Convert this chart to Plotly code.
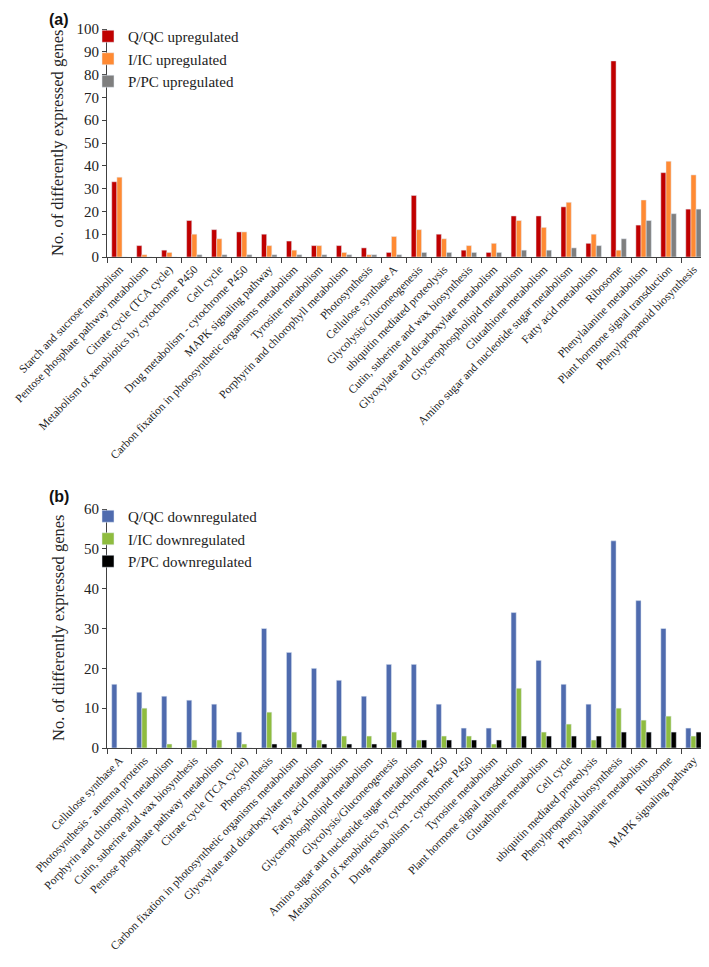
import plotly.graph_objects as go

# ---- Panel (a) data ----
cats_a = [
    "Starch and sucrose metabolism",
    "Pentose phosphate pathway metabolism",
    "Citrate cycle (TCA cycle)",
    "Metabolism of xenobiotics by cytochrome P450",
    "Cell cycle",
    "Drug metabolism - cytochrome P450",
    "MAPK signaling pathway",
    "Carbon fixation in photosynthetic organisms metabolism",
    "Tyrosine metabolism",
    "Porphyrin and chlorophyll metabolism",
    "Photosynthesis",
    "Cellulose synthase A",
    "Glycolysis/Gluconeogenesis",
    "ubiquitin mediated proteolysis",
    "Cutin, suberine and wax biosynthesis",
    "Glyoxylate and dicarboxylate metabolism",
    "Glycerophospholipid metabolism",
    "Glutathione metabolism",
    "Amino sugar and nucleotide sugar metabolism",
    "Fatty acid metabolism",
    "Ribosome",
    "Phenylalanine metabolism",
    "Plant hormone signal transduction",
    "Phenylpropanoid biosynthesis",
]
q_up = [33, 5, 3, 16, 12, 11, 10, 7, 5, 5, 4, 2, 27, 10, 3, 2, 18, 18, 22, 6, 86, 14, 37, 21]
i_up = [35, 1, 2, 10, 8, 11, 5, 3, 5, 2, 1, 9, 12, 8, 5, 6, 16, 13, 24, 10, 3, 25, 42, 36]
p_up = [0, 0, 0, 1, 1, 1, 1, 1, 1, 1, 1, 1, 2, 2, 2, 2, 3, 3, 4, 5, 8, 16, 19, 21]

# ---- Panel (b) data ----
cats_b = [
    "Cellulose synthase A",
    "Photosynthesis - antenna proteins",
    "Porphyrin and chlorophyll metabolism",
    "Cutin, suberine and wax biosynthesis",
    "Pentose phosphate pathway metabolism",
    "Citrate cycle (TCA cycle)",
    "Photosynthesis",
    "Carbon fixation in photosynthetic organisms metabolism",
    "Glyoxylate and dicarboxylate metabolism",
    "Fatty acid metabolism",
    "Glycerophospholipid metabolism",
    "Glycolysis/Gluconeogenesis",
    "Amino sugar and nucleotide sugar metabolism",
    "Metabolism of xenobiotics by cytochrome P450",
    "Drug metabolism - cytochrome P450",
    "Tyrosine metabolism",
    "Plant hormone signal transduction",
    "Glutathione metabolism",
    "Cell cycle",
    "ubiquitin mediated proteolysis",
    "Phenylpropanoid biosynthesis",
    "Phenylalanine metabolism",
    "Ribosome",
    "MAPK signaling pathway",
]
q_down = [16, 14, 13, 12, 11, 4, 30, 24, 20, 17, 13, 21, 21, 11, 5, 5, 34, 22, 16, 11, 52, 37, 30, 5]
i_down = [0, 10, 1, 2, 2, 1, 9, 4, 2, 3, 3, 4, 2, 3, 3, 1, 15, 4, 6, 2, 10, 7, 8, 3]
p_down = [0, 0, 0, 0, 0, 0, 1, 1, 1, 1, 1, 2, 2, 2, 2, 2, 3, 3, 3, 3, 4, 4, 4, 4]

# page body has an 8px margin; the figure is drawn from (8, 8)
OFF = 8
W, H = 709 - OFF, 967 - OFF
FONT = "Liberation Serif"


def px(x):
    return (x - OFF) / W


def py(y):
    return 1 - (y - OFF) / H


fig = go.Figure()

fig.add_trace(go.Bar(x=cats_a, y=q_up, name="Q/QC upregulated", marker_color="#C00000",
                     xaxis="x", yaxis="y", legend="legend"))
fig.add_trace(go.Bar(x=cats_a, y=i_up, name="I/IC upregulated", marker_color="#FF8A33",
                     xaxis="x", yaxis="y", legend="legend"))
fig.add_trace(go.Bar(x=cats_a, y=p_up, name="P/PC upregulated", marker_color="#7F7F7F",
                     xaxis="x", yaxis="y", legend="legend"))

fig.add_trace(go.Bar(x=cats_b, y=q_down, name="Q/QC downregulated", marker_color="#4F6BAE",
                     xaxis="x2", yaxis="y2", legend="legend2"))
fig.add_trace(go.Bar(x=cats_b, y=i_down, name="I/IC downregulated", marker_color="#8FBC3F",
                     xaxis="x2", yaxis="y2", legend="legend2"))
fig.add_trace(go.Bar(x=cats_b, y=p_down, name="P/PC downregulated", marker_color="#000000",
                     xaxis="x2", yaxis="y2", legend="legend2"))

xdom = [px(107), px(706)]
ya_dom = [py(257), py(29)]
yb_dom = [py(748), py(509)]

xcommon = dict(
    type="category", showline=True, linecolor="#404040", linewidth=1,
    ticks="outside", tickson="boundaries", ticklen=5, tickcolor="#404040",
    tickangle=-46, tickfont=dict(family=FONT, size=11.6, color="#222"),
    showgrid=False, domain=xdom, automargin=False,
)
ycommon = dict(
    showline=True, linecolor="#404040", linewidth=1, ticks="outside",
    ticklen=4, tickcolor="#404040", showgrid=False, zeroline=False,
    tickfont=dict(family=FONT, size=15, color="#222"), automargin=False,
)

fig.update_layout(
    width=W, height=H,
    margin=dict(l=0, r=0, t=0, b=0, autoexpand=False),
    paper_bgcolor="white", plot_bgcolor="white",
    barmode="group", bargap=0.38, bargroupgap=0.0,
    font=dict(family=FONT, color="#222"),
    xaxis=dict(anchor="y", **xcommon),
    yaxis=dict(anchor="x", domain=ya_dom, range=[0, 100], dtick=10, **ycommon),
    xaxis2=dict(anchor="y2", **xcommon),
    yaxis2=dict(anchor="x2", domain=yb_dom, range=[0, 60], dtick=10, **ycommon),
    legend=dict(x=px(88), y=py(20), xanchor="left", yanchor="top",
                font=dict(family=FONT, size=15, color="#222"), bgcolor="rgba(0,0,0,0)",
                itemwidth=30, tracegroupgap=0),
    legend2=dict(x=px(88), y=py(500), xanchor="left", yanchor="top",
                 font=dict(family=FONT, size=15, color="#222"), bgcolor="rgba(0,0,0,0)",
                 itemwidth=30, tracegroupgap=0),
    showlegend=True,
    annotations=[
        dict(text="<b>(a)</b>", x=px(47), y=py(9), xref="paper", yref="paper",
             xanchor="left", yanchor="top", showarrow=False,
             font=dict(family="Liberation Sans", size=16, color="#111")),
        dict(text="<b>(b)</b>", x=px(47), y=py(496), xref="paper", yref="paper",
             xanchor="left", yanchor="middle", showarrow=False,
             font=dict(family="Liberation Sans", size=16, color="#111")),
        dict(text="No. of differently expressed genes", x=px(58), y=py(143),
             xref="paper", yref="paper", xanchor="center", yanchor="middle",
             showarrow=False, textangle=-90,
             font=dict(family=FONT, size=16.5, color="#222")),
        dict(text="No. of differently expressed genes", x=px(58), y=py(628),
             xref="paper", yref="paper", xanchor="center", yanchor="middle",
             showarrow=False, textangle=-90,
             font=dict(family=FONT, size=16.5, color="#222")),
    ],
)

fig.write_html("out.html")
